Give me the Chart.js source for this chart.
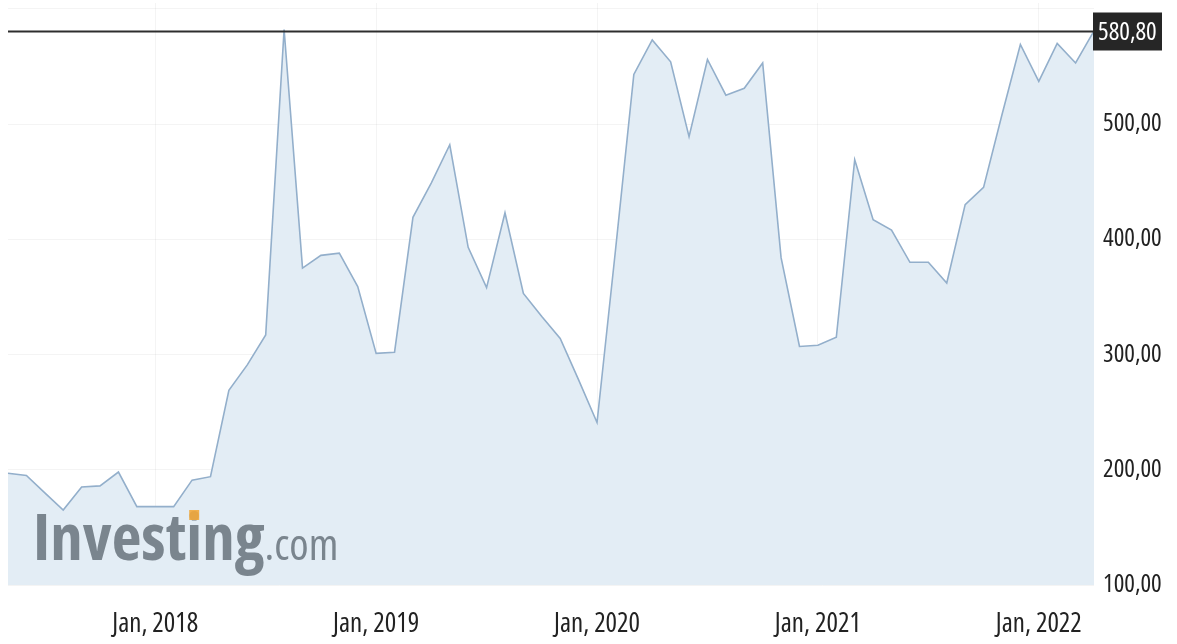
<!DOCTYPE html>
<html>
<head>
<meta charset="utf-8">
<script src="https://cdn.jsdelivr.net/npm/chart.js@4.4.1/dist/chart.umd.min.js"></script>
<style>
  html, body { margin: 0; padding: 0; background: #fff; overflow: hidden; }
  #wrap { width: 1177px; height: 644px; position: relative; }
</style>
</head>
<body>
<div id="wrap"><canvas id="priceChart"></canvas></div>
<script>
// monthly closes, May 2017 .. Apr 2022
const months = [
  '2017-05', '2017-06', '2017-07', '2017-08', '2017-09', '2017-10', '2017-11', '2017-12',
  '2018-01', '2018-02', '2018-03', '2018-04', '2018-05', '2018-06', '2018-07', '2018-08',
  '2018-09', '2018-10', '2018-11', '2018-12', '2019-01', '2019-02', '2019-03', '2019-04',
  '2019-05', '2019-06', '2019-07', '2019-08', '2019-09', '2019-10', '2019-11', '2019-12',
  '2020-01', '2020-02', '2020-03', '2020-04', '2020-05', '2020-06', '2020-07', '2020-08',
  '2020-09', '2020-10', '2020-11', '2020-12', '2021-01', '2021-02', '2021-03', '2021-04',
  '2021-05', '2021-06', '2021-07', '2021-08', '2021-09', '2021-10', '2021-11', '2021-12',
  '2022-01', '2022-02', '2022-03', '2022-04'
];
const prices = [
  197, 195, 180, 165, 185, 186, 198, 168,
  168, 168, 191, 194, 269, 291, 317, 582,
  375, 386, 388, 359, 301, 302, 419, 449,
  482, 393, 358, 423, 353, 333, 314, 278,
  241, 390, 543, 573, 554, 489, 556, 525,
  531, 553, 384, 307, 308, 315, 469, 417,
  408, 380, 380, 362, 430, 445, 508, 569,
  537, 570, 553, 580.80
];
const yearTicks = ['2018-01', '2019-01', '2020-01', '2021-01', '2022-01'];
const yearLabels = ['Jan, 2018', 'Jan, 2019', 'Jan, 2020', 'Jan, 2021', 'Jan, 2022'];
const priceTicks = [100, 200, 300, 400, 500, 600];
const lastPrice = prices[prices.length - 1];

const FAMILY = "'Open Sans', 'Liberation Sans', sans-serif";

function fmt(v) {
  return v.toFixed(2).replace('.', ',');
}

// horizontal line at the latest close plus the dark price tag on the axis
const lastPriceMarker = {
  id: 'lastPriceMarker',
  afterDraw(chart) {
    const { ctx, chartArea, scales } = chart;
    const y = Math.round(scales.y.getPixelForValue(lastPrice)) + 0.5;
    ctx.save();
    ctx.strokeStyle = '#2e2e2e';
    ctx.lineWidth = 2;
    ctx.beginPath();
    ctx.moveTo(chartArea.left, y);
    ctx.lineTo(chartArea.right, y);
    ctx.stroke();

    ctx.fillStyle = '#262626';
    ctx.fillRect(chartArea.right - 1, y - 19, 69, 38);
    ctx.fillStyle = '#fff';
    ctx.font = 'condensed 25px ' + FAMILY;
    ctx.textBaseline = 'middle';
    ctx.textAlign = 'left';
    ctx.fillText(fmt(lastPrice), chartArea.right + 4, y + 1);
    ctx.restore();
  }
};

// site logo in the lower-left corner of the plot
const logo = {
  id: 'logo',
  afterDatasetsDraw(chart) {
    const { ctx } = chart;
    ctx.save();
    ctx.globalAlpha = 0.85;
    ctx.fillStyle = '#67727b';
    ctx.textBaseline = 'alphabetic';
    ctx.textAlign = 'left';
    ctx.font = 'condensed bold 65px ' + FAMILY;
    const x0 = 33, base = 560;
    ctx.fillText('Investing', x0, base);
    const w = ctx.measureText('Investing').width;
    const wPre = ctx.measureText('Invest').width;
    const wI = ctx.measureText('i').width;
    ctx.font = 'condensed 44px ' + FAMILY;
    ctx.fillText('.com', x0 + w, base);
    // orange dot on the i
    ctx.globalAlpha = 0.9;
    ctx.fillStyle = '#f2a93b';
    ctx.fillRect(x0 + wPre + wI / 2 - 5, base - 50, 10, 10);
    ctx.restore();
  }
};

new Chart(document.getElementById('priceChart'), {
  type: 'line',
  data: {
    labels: months,
    datasets: [{
      data: prices,
      borderColor: '#93afcb',
      borderWidth: 1.6,
      backgroundColor: '#e3edf5',
      fill: 'start',
      pointRadius: 0,
      tension: 0
    }]
  },
  options: {
    responsive: true,
    maintainAspectRatio: false,
    animation: false,
    layout: { padding: { left: 8, top: 3, right: 0, bottom: 0 } },
    plugins: {
      legend: { display: false },
      tooltip: { enabled: false }
    },
    scales: {
      x: {
        type: 'category',
        offset: false,
        border: { display: false },
        grid: { color: 'rgba(0,0,0,0.045)', drawTicks: false },
        afterBuildTicks: (s) => {
          s.ticks = s.ticks.filter((t) => yearTicks.includes(months[t.value]));
        },
        afterFit: (s) => {
          s.height = 59;
          s.paddingLeft = 0;
          s.paddingRight = 0;
        },
        ticks: {
          autoSkip: false,
          maxRotation: 0,
          padding: 23,
          color: '#222',
          font: { family: FAMILY, size: 27, weight: 'condensed' },
          callback: (v) => yearLabels[yearTicks.indexOf(months[v])]
        }
      },
      y: {
        position: 'right',
        min: 100,
        max: 605,
        border: { display: false },
        grid: { color: 'rgba(0,0,0,0.045)', drawTicks: false },
        afterBuildTicks: (s) => {
          s.ticks = priceTicks.map((v) => ({ value: v }));
        },
        afterFit: (s) => {
          s.width = 83;
          s.paddingTop = 0;
          s.paddingBottom = 0;
        },
        ticks: {
          padding: 9,
          color: '#222',
          font: { family: FAMILY, size: 25, weight: 'condensed' },
          callback: (v) => (v <= 500 ? fmt(v) : '')
        }
      }
    }
  },
  plugins: [logo, lastPriceMarker]
});
</script>
</body>
</html>
